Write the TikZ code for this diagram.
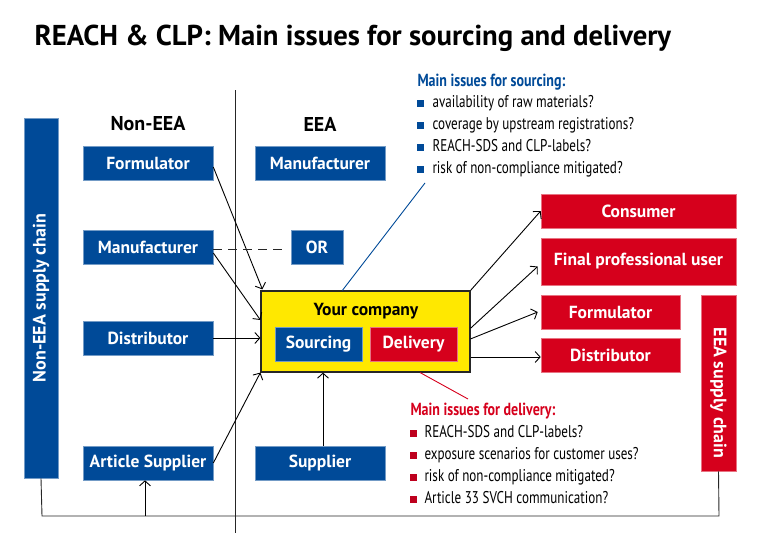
\documentclass[tikz,border=0pt]{standalone}
\usepackage{fontspec}
\setmainfont{PT Sans}
\newfontfamily\boxfont{PT Sans}
\newfontfamily\condfont[FakeStretch=0.77]{PT Sans}
\newfontfamily\condhfont[FakeStretch=0.8]{PT Sans}
\usetikzlibrary{arrows.meta,calc}
\definecolor{eublue}{RGB}{0,74,152}
\definecolor{eured}{RGB}{214,0,28}
\definecolor{euyellow}{RGB}{255,232,0}
\definecolor{bulletred}{RGB}{190,0,30}
\begin{document}
\begin{tikzpicture}[x=1pt,y=-1pt,
  bluebox/.style={fill=eublue, draw=eublue!55!white, line width=0.6pt, text=white,
    font=\boxfont\bfseries\fontsize{17.5}{20}\selectfont, minimum height=34pt, inner sep=0pt},
  redbox/.style={fill=eured, draw=eured!55!white, line width=0.6pt, text=white,
    font=\boxfont\bfseries\fontsize{17.5}{20}\selectfont, minimum height=34pt, inner sep=0pt},
  conn/.style={draw=black, line width=0.9pt, -{Straight Barb[length=5pt,width=11pt,line width=0.9pt]}},
  plainline/.style={draw=black!85, line width=0.9pt},
  header/.style={font=\boxfont\bfseries\fontsize{20}{22}\selectfont},
  bheading/.style={anchor=base west, font=\condhfont\bfseries\fontsize{17.5}{20}\selectfont},
  btext/.style={anchor=base west, font=\condfont\fontsize{17}{20}\selectfont, text=black},
  bsq/.style={minimum size=7pt, inner sep=0pt},
]
\useasboundingbox (0,0) rectangle (760,541);

% title
\node[anchor=base west, font=\boxfont\bfseries\fontsize{28.7}{32}\selectfont] (title) at (31,45)
  {REACH \& CLP: Main issues for sourcing and delivery};

% divider
\draw[plainline] (235,90) -- (235,533);

% column headers
\node[header] (hnon) at (148,124) {Non-EEA};
\node[header] (heea) at (320,124) {EEA};

% supply chain bars
\node[fill=eublue, draw=eublue!55!white, line width=0.6pt, minimum width=360pt, minimum height=34pt, inner sep=0pt, rotate=90] (nonbar) at (41,298) {};
\node[text=white, font=\boxfont\bfseries\fontsize{18}{20}\selectfont, rotate=90] (nonbartext) at (nonbar.center) {Non-EEA supply chain};
\node[fill=eured, draw=eured!55!white, line width=0.6pt, minimum width=35pt, minimum height=176pt, inner sep=0pt] (eeabar) at (718.5,383) {};
\node[text=white, font=\boxfont\bfseries\fontsize{18}{20}\selectfont, rotate=270] (eeabartext) at ($(eeabar.center)+(0,10)$) {EEA supply chain};

% non-EEA boxes
\node[bluebox, minimum width=130pt] (nfor) at (148,163) {Formulator};
\node[bluebox, minimum width=130pt] (nman) at (148,247) {Manufacturer};
\node[bluebox, minimum width=130pt] (ndis) at (148,338) {Distributor};
\node[bluebox, minimum width=130pt] (nart) at (148,463) {Article Supplier};

% EEA boxes
\node[bluebox, minimum width=130pt] (eman) at (320,163) {Manufacturer};
\node[bluebox, minimum width=52pt] (eor) at (317,247) {OR};
\node[bluebox, minimum width=130pt] (esup) at (320,463) {Supplier};

% company
\node[fill=euyellow, draw=black!85, line width=1.2pt, minimum width=209pt, minimum height=81pt, inner sep=0pt] (comp) at (365.5,331.5) {};
\node[font=\boxfont\bfseries\fontsize{17.5}{20}\selectfont] (ctext) at (366,311) {Your company};
\node[bluebox, minimum width=87pt] (src) at (318.5,344) {Sourcing};
\node[redbox, minimum width=87pt] (del) at (413.5,344) {Delivery};

% downstream boxes
\node[redbox, minimum width=195pt] (rcon) at (638.5,211) {Consumer};
\node[redbox, minimum width=195pt, minimum height=47pt] (rfin) at (638.5,261.5) {Final professional user};
\node[redbox, minimum width=139pt] (rfor) at (610.5,312) {Formulator};
\node[redbox, minimum width=139pt] (rdis) at (610.5,355) {Distributor};

% upstream arrows
\draw[conn] ($(nfor.east)+(0,4)$) -- ($(comp.north west)+(2,-1)$);
\draw[conn] ($(nman.east)+(0,6)$) -- ($(comp.north west)!0.36!(comp.south west)$);
\draw[conn] (ndis.east) -- (comp.west |- ndis.east);
\draw[conn] (nart.east) -- (comp.south west);
\draw[conn] (esup.north -| 323,0) -- (comp.south -| 323,0);
\draw[plainline, dash pattern=on 9pt off 6pt] ($(nman.east)+(0,2)$) -- ($(eor.west)+(-8,2)$);

% downstream arrows
\draw[conn] (comp.north east) -- (rcon.west);
\draw[conn] ($(comp.north east)!0.46!(comp.south east)$) -- ($(rfin.west)+(-3,5)$);
\draw[conn] ($(comp.north east)!0.59!(comp.south east)$) -- ($(rfor.west)+(-3,0)$);
\draw[conn] ($(comp.east |- rdis.west)+(0,2)$) -- ($(rdis.west)+(0,2)$);

% bottom loop
\coordinate (bl) at (42,516);
\coordinate (br) at (719,516);
\coordinate (ba) at (145,516);
\draw[plainline] (nonbar.east |- nonbar.west) -- (bl) -- (br) -- (eeabar.south);
\draw[conn] (ba) -- (ba |- nart.south);

% callout lines
\coordinate (sline) at (425,183);
\coordinate (dline) at (468,399);
\draw[draw=eublue, line width=0.9pt] ($(comp.north west)!0.39!(comp.north east)$) -- (sline);
\draw[draw=eured, line width=0.9pt] ($(comp.south west)!0.76!(comp.south east)$) -- (dline);

% sourcing issues
\node[bheading, text=eublue] (sh) at (414,86) {Main issues for sourcing:};
\node[bsq, fill=eublue] (sb1) at (420.5,103) {};
\node[btext] (st1) at (429,107) {availability of raw materials?};
\node[bsq, fill=eublue] (sb2) at (420.5,125) {};
\node[btext] (st2) at (429,129) {coverage by upstream registrations?};
\node[bsq, fill=eublue] (sb3) at (420.5,147) {};
\node[btext] (st3) at (429,151) {REACH-SDS and CLP-labels?};
\node[bsq, fill=eublue] (sb4) at (420.5,169) {};
\node[btext] (st4) at (429,173) {risk of non-compliance mitigated?};

% delivery issues
\node[bheading, text=eured] (dh) at (407,415) {Main issues for delivery:};
\node[bsq, fill=bulletred] (db1) at (413.5,433) {};
\node[btext] (dt1) at (421,437) {REACH-SDS and CLP-labels?};
\node[bsq, fill=bulletred] (db2) at (413.5,455) {};
\node[btext] (dt2) at (421,459) {exposure scenarios for customer uses?};
\node[bsq, fill=bulletred] (db3) at (413.5,477) {};
\node[btext] (dt3) at (421,481) {risk of non-compliance mitigated?};
\node[bsq, fill=bulletred] (db4) at (413.5,499) {};
\node[btext] (dt4) at (421,503) {Article 33 SVCH communication?};
\end{tikzpicture}
\end{document}
